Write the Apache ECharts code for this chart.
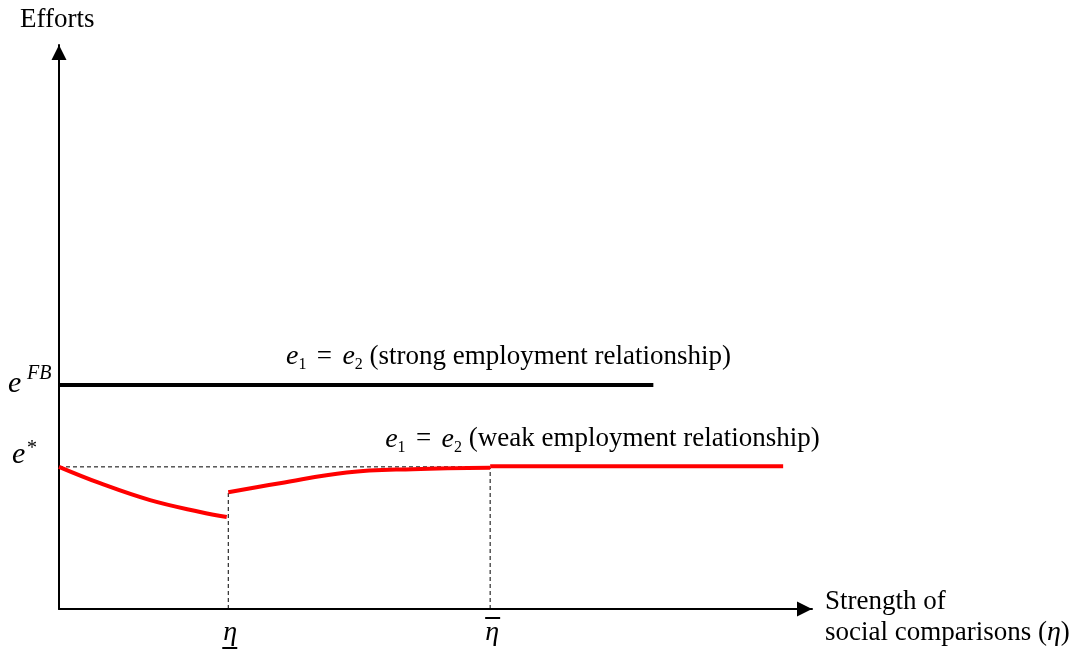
<!DOCTYPE html>
<html><head><meta charset="utf-8">
<script src="https://cdn.jsdelivr.net/npm/echarts@6/dist/echarts.min.js"></script>
<style>html,body{margin:0;padding:0;background:#fff}#c{width:1073px;height:650px}</style>
</head><body><div id="c"></div>
<script>
// ---- data (axis units: x = strength of social comparisons, y = efforts) ----
const etaLow = 22.3;      // underline-eta
const etaHigh = 56.8;     // overline-eta
const eFB = 39.7;         // first-best effort
const eStar = 25.2;       // e*
const strongLine = [[0, 39.7], [78.3, 39.7]];
const weakLeft  = [[0, 25.2], [5.4, 22.3], [12.0, 19.3], [18.6, 17.2], [22.1, 16.3]];
const weakMid   = [[22.3, 20.7], [29.1, 22.3], [37.9, 24.2], [46.6, 24.8], [56.8, 25.05]];
const weakRight = [[56.8, 25.3], [95.4, 25.3]];
const dashH  = [[0, eStar], [etaHigh - 0.1, eStar]];
const dashV1 = [[etaLow, 0], [etaLow, 20.7]];
const dashV2 = [[etaHigh, 0], [etaHigh, 25.05]];

const FONT = '"Liberation Serif", "Times New Roman", serif';
const chart = echarts.init(document.getElementById('c'));
const dashStyle = {color: '#000', width: 1, type: [4, 3]};
const lineSeries = (data, style, smooth, z) => ({
  type: 'line', data, symbol: 'none', smooth: smooth, lineStyle: style, z: z,
  silent: true, animation: false
});
const axisLine = {show: true, onZero: false, lineStyle: {color: '#000', width: 2},
  symbol: ['none', 'triangle'], symbolSize: [15, 15], symbolOffset: [0, -7.5]};
chart.setOption({
  animation: false,
  grid: {left: 59, top: 45, right: 261, bottom: 41, containLabel: false},
  xAxis: {type: 'value', min: 0, max: 99.2, axisLine,
    axisTick: {show: false}, axisLabel: {show: false}, splitLine: {show: false}},
  yAxis: {type: 'value', min: 0, max: 100, axisLine,
    axisTick: {show: false}, axisLabel: {show: false}, splitLine: {show: false}},
  series: [
    lineSeries(dashH, dashStyle, false, 1),
    lineSeries(dashV1, dashStyle, false, 1),
    lineSeries(dashV2, dashStyle, false, 1),
    lineSeries(strongLine, {color: '#000', width: 4}, false, 3),
    lineSeries(weakLeft, {color: '#ff0000', width: 4}, 0.4, 3),
    lineSeries(weakMid, {color: '#ff0000', width: 4}, 0.4, 3),
    lineSeries(weakRight, {color: '#ff0000', width: 4}, false, 3)
  ]
});

const px = p => chart.convertToPixel({gridIndex: 0}, p);
const o = px([0, 0]);
const pLow = px([etaLow, 0]), pHigh = px([etaHigh, 0]);
const pFB = px([0, eFB]), pStar = px([0, eStar]);
const pStrong = px(strongLine[0]), pWeak = px(weakRight[0]);

const FS = 27;
const rich = {
  m: {fontFamily: FONT, fontSize: 28, fontStyle: 'italic', lineHeight: 32},
  t: {fontFamily: FONT, fontSize: FS, lineHeight: 32},
  eq: {fontFamily: FONT, fontSize: FS, lineHeight: 32, width: 36, align: 'center'},
  s: {fontFamily: FONT, fontSize: 16, lineHeight: 12, verticalAlign: 'bottom'}
};
const txt = (text, x, y, extra) => ({
  type: 'text', x, y, silent: true,
  style: Object.assign({fontFamily: FONT, fontSize: FS, fill: '#000', text, rich, align: 'left', verticalAlign: 'middle'}, extra || {})
});
const ital = (text, x, y, size, align) => txt(text, x, y, {fontStyle: 'italic', fontSize: size, align: align || 'left'});
const seg = (x1, y1, x2, y2) => ({type: 'line', silent: true, shape: {x1, y1, x2, y2}, style: {stroke: '#000', lineWidth: 2}});
const EQ = '{eq|=}';

chart.setOption({
  graphic: [
    txt('Efforts', 20, 20),
    ital('e', 8, pFB[1] - 1, 30),
    ital('FB', 27, pFB[1] - 11, 20),
    ital('e', 12, pStar[1] - 12, 30),
    txt('*', 27, pStar[1] - 18, {fontSize: 20}),
    txt('{m|e}{s|1}' + EQ + '{m|e}{s|2}{t| (strong employment relationship)}', pStrong[0] + 227, pStrong[1] - 28),
    txt('{m|e}{s|1}' + EQ + '{m|e}{s|2}{t| (weak employment relationship)}', pWeak[0] - 105, pWeak[1] - 27),
    txt('Strength of', 825, o[1] - 7),
    txt('social comparisons ({m|η})', 825, o[1] + 24),
    ital('η', pLow[0] + 2, o[1] + 24, 28, 'center'),
    seg(pLow[0] - 6, o[1] + 39, pLow[0] + 9, o[1] + 39),
    ital('η', pHigh[0] + 2, o[1] + 24, 28, 'center'),
    seg(pHigh[0] - 5, o[1] + 9, pHigh[0] + 10, o[1] + 9)
  ]
});
</script></body></html>
